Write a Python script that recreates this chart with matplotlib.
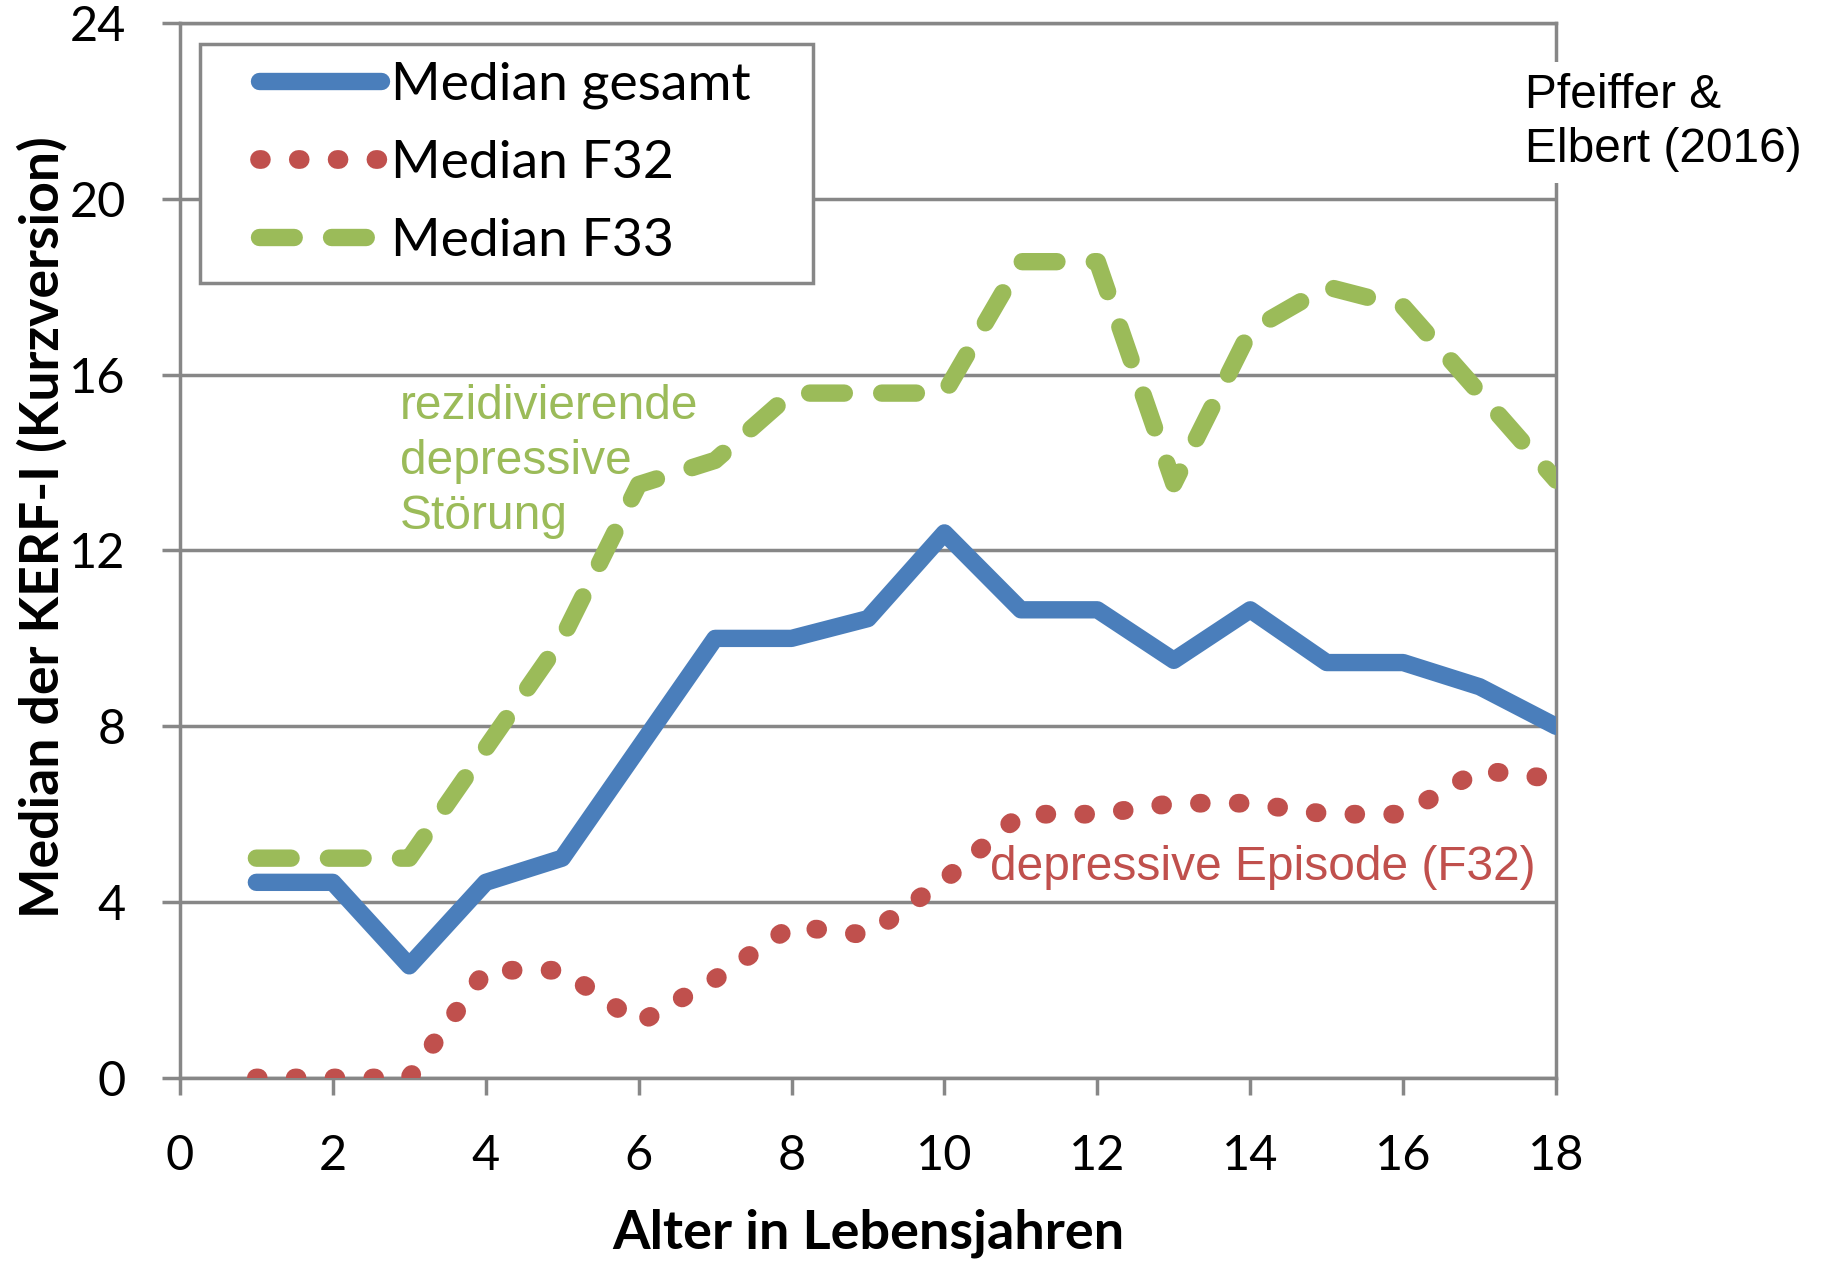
import matplotlib
matplotlib.use("Agg")
import matplotlib.pyplot as plt
from matplotlib.legend_handler import HandlerLine2D

# Age in years
age = [1, 2, 3, 4, 5, 6, 7, 8, 9, 10, 11, 12, 13, 14, 15, 16, 17, 18]

# Median KERF-I short-version scores per age
median_gesamt = [4.45, 4.45, 2.55, 4.45, 5.0, 7.5, 10.0, 10.0, 10.45, 12.4,
                 10.65, 10.65, 9.5, 10.65, 9.45, 9.45, 8.9, 8.0]
median_f32 = [0.0, 0.0, 0.0, 2.45, 2.45, 1.25, 2.25, 3.45, 3.25, 4.5,
              6.0, 6.0, 6.25, 6.25, 6.0, 6.0, 7.0, 6.8]
median_f33 = [5.0, 5.0, 5.0, 7.5, 10.0, 13.5, 14.05, 15.58, 15.58, 15.58,
              18.57, 18.57, 13.52, 17.0, 18.0, 17.55, 15.58, 13.6]

series_labels = ["Median gesamt", "Median F32", "Median F33"]
x_ticks = list(range(0, 19, 2))
y_ticks = list(range(0, 25, 4))

BLUE = "#4A7EBB"
RED = "#C0504D"
GREEN = "#9BBB59"
GRAY = "#878787"
LW = 12.5
LW_DOT = 13.5

UI_FONT = "Lato"
NOTE_FONT = "Liberation Sans"

fig = plt.figure(figsize=(18.21, 12.64), dpi=100)
ax = fig.add_axes([0.0988, 0.1472, 0.7557, 0.8346])

ax.set_xlim(0, 18)
ax.set_ylim(0, 24)
ax.set_xticks(x_ticks)
ax.set_yticks(y_ticks)

ax.yaxis.grid(True, color=GRAY, lw=2.5)
ax.set_axisbelow(True)
for side in ["left", "right", "bottom", "top"]:
    ax.spines[side].set_color(GRAY)
    ax.spines[side].set_linewidth(2.5)

ax.tick_params(axis="y", length=13, width=2.5, color=GRAY, pad=26,
               labelsize=35)
ax.tick_params(axis="x", length=12.5, width=2.5, color=GRAY, pad=28,
               labelsize=35)
for lbl in ax.get_xticklabels() + ax.get_yticklabels():
    lbl.set_family(UI_FONT)

l1, = ax.plot(age, median_gesamt, color=BLUE, lw=LW,
              solid_capstyle="round", solid_joinstyle="round", zorder=3)
l2, = ax.plot(age, median_f32, color=RED, lw=LW_DOT,
              linestyle=(0, (0.1, 1.97)),
              dash_capstyle="round", dash_joinstyle="round", zorder=3)
l3, = ax.plot(age, median_f33, color=GREEN, lw=LW, linestyle=(0, (2.0, 2.15)),
              dash_capstyle="round", dash_joinstyle="round", zorder=3)

# legend box: left/top/width in figure fractions
leg_h = 0.1
leg = ax.legend([l1, l2, l3], series_labels,
                loc="upper left", mode="expand",
                bbox_to_anchor=(200 / 1821, 1 - 44 / 1264 - leg_h,
                                613 / 1821, leg_h),
                bbox_transform=fig.transFigure, borderaxespad=0,
                prop={"family": UI_FONT, "size": 38.5},
                handlelength=3.05, handletextpad=0.19, borderpad=0.33,
                labelspacing=0.58, fancybox=False, framealpha=1,
                handler_map={l: HandlerLine2D(xpad=0.78)
                             for l in (l1, l2, l3)})
leg.get_frame().set_edgecolor(GRAY)
leg.get_frame().set_linewidth(2.5)
for h, w in zip(leg.legend_handles, [LW, LW_DOT, LW]):
    h.set_linewidth(w)

ax.set_xlabel("Alter in Lebensjahren", family=UI_FONT, fontsize=39,
              fontweight="bold")
ax.xaxis.set_label_coords(0.5, -0.147)
ax.xaxis.label.set_va("center")

ax.set_ylabel("Median der KERF-I (Kurzversion)", family=UI_FONT,
              fontsize=38.5, fontweight="bold")
ax.yaxis.set_label_coords(-0.1, 0.522)
ax.yaxis.label.set_va("center")

ax.text(2.88, 14.03, "rezidivierende\ndepressive\nStörung", color=GREEN,
        family=NOTE_FONT, fontsize=34.5, ha="left", va="center",
        linespacing=1.28, zorder=4)
ax.text(10.6, 4.78, "depressive Episode (F32)", color=RED,
        family=NOTE_FONT, fontsize=34.5, ha="left", va="center", zorder=4)
ax.text(17.6, 22.87, "Pfeiffer &\nElbert (2016)", color="black",
        family=NOTE_FONT, fontsize=34.5, ha="left", va="top",
        linespacing=1.28, clip_on=False, zorder=5,
        bbox=dict(facecolor="white", edgecolor="none", pad=8))

fig.savefig("out.png", dpi=100)
